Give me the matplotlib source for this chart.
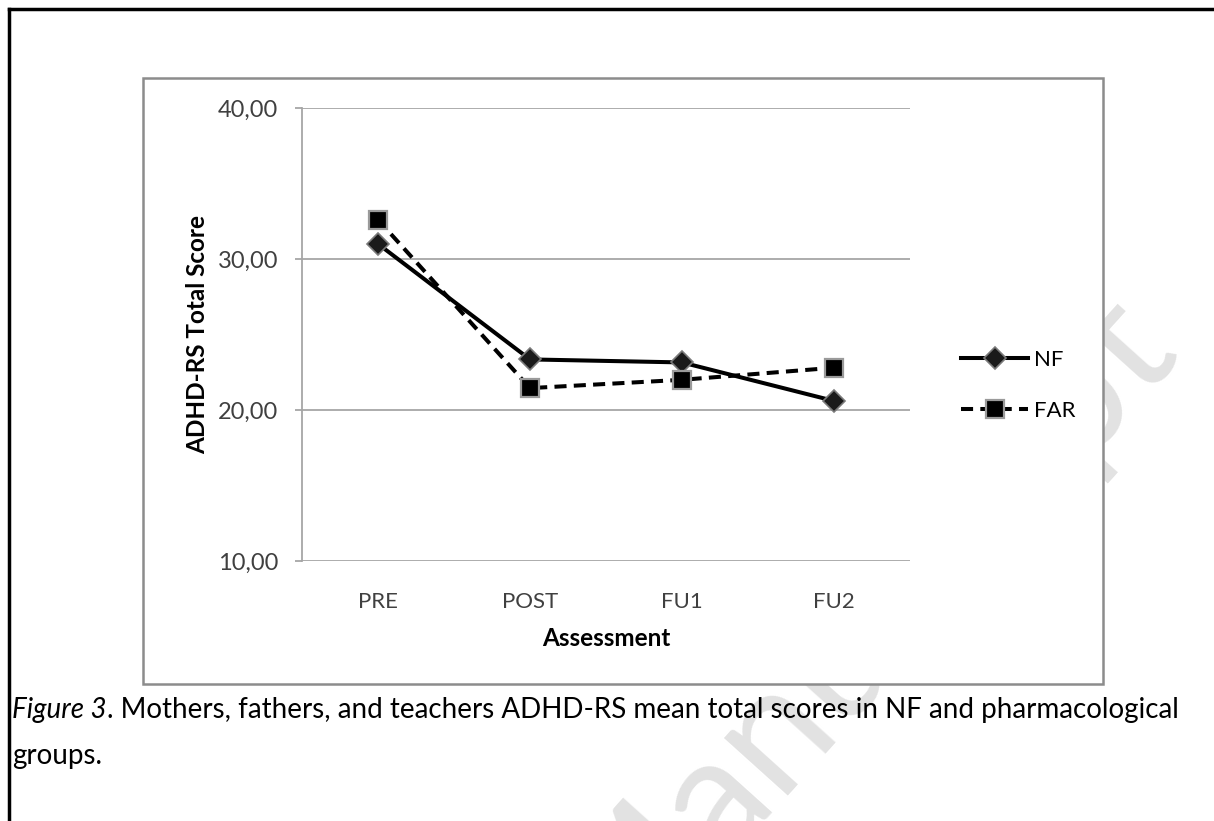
"""
Line chart of ADHD-RS mean total scores (NF vs FAR) across assessments,
drawn inside a document-style frame with caption and watermark.
"""
import matplotlib
matplotlib.use('Agg')
import matplotlib.pyplot as plt
from matplotlib.patches import Rectangle
from matplotlib.lines import Line2D
from matplotlib.ticker import FixedLocator, FuncFormatter

# Data
assessments = ['PRE', 'POST', 'FU1', 'FU2']
nf_scores = [31.0, 23.35, 23.15, 20.6]
far_scores = [32.6, 21.45, 22.0, 22.8]
y_ticks = [10, 20, 30, 40]

FONT = ['Lato', 'DejaVu Sans']
plt.rcParams['font.family'] = FONT

W, H = 1214, 821
fig = plt.figure(figsize=(W / 100, H / 100), dpi=100)


def fx(px):
    return px / W


def fy(py):
    return 1 - py / H


# Page frame (top and left edges only are visible)
fig.add_artist(Line2D([fx(9), 1.0], [fy(9), fy(9)], color='black', lw=2.5,
                      transform=fig.transFigure, zorder=-3))
fig.add_artist(Line2D([fx(9), fx(9)], [fy(9), 0.0], color='black', lw=2.5,
                      transform=fig.transFigure, zorder=-3))

# Watermark behind the chart box
fig.text(fx(1183), fy(357), 'Accepted Manuscript', rotation=48,
         rotation_mode='anchor', ha='right', va='baseline',
         fontsize=122, color='#e2e2e2', fontweight='normal', zorder=-2)

# Chart box
fig.add_artist(Rectangle((fx(143), fy(684)), fx(1103) - fx(143), fy(78) - fy(684),
                         transform=fig.transFigure, facecolor='white',
                         edgecolor='#8c8c8c', lw=1.8, zorder=-1))

ax = fig.add_axes([fx(302), fy(561), fx(910) - fx(302), fy(108) - fy(561)])
ax.set_facecolor('none')

x = list(range(len(assessments)))
ax.plot(x, nf_scores, color='black', lw=2.9, marker='D', markersize=11,
        markerfacecolor='#1a1a1a', markeredgecolor='#7a7a7a', markeredgewidth=1.2,
        label='NF', zorder=3)
ax.plot(x, far_scores, color='black', lw=2.9, dashes=(3.0, 1.8), marker='s',
        markersize=13, markerfacecolor='black', markeredgecolor='#9a9a9a',
        markeredgewidth=1.6, label='FAR', zorder=3)

ax.set_xlim(-0.5, len(assessments) - 0.5)
ax.set_ylim(10, 40)
ax.set_xticks(x)
ax.set_xticklabels(assessments)
ax.yaxis.set_major_locator(FixedLocator(y_ticks))
ax.yaxis.set_major_formatter(FuncFormatter(lambda v, p: f'{v:.2f}'.replace('.', ',')))

for t in y_ticks:
    ax.axhline(t, color='#a6a6a6', lw=1.3, zorder=1)

for side in ['top', 'right', 'bottom']:
    ax.spines[side].set_visible(False)
ax.spines['left'].set_color('#a6a6a6')
ax.spines['left'].set_linewidth(1.3)

ax.tick_params(axis='y', length=5, width=1.3, color='#a6a6a6', pad=12,
               labelsize=17, labelcolor='#404040')
ax.tick_params(axis='x', length=0, pad=22, labelsize=16, labelcolor='#404040')

ax.set_xlabel('Assessment', fontsize=17.5, fontweight='bold', labelpad=11)
ax.set_ylabel('ADHD-RS Total Score', fontsize=17.5, fontweight='bold', labelpad=6)

ax.legend(loc='center left', bbox_to_anchor=(1.07, 0.387), frameon=False,
          fontsize=16, handlelength=3.0, handletextpad=0.25, labelspacing=1.4,
          borderaxespad=0)

# Caption with italic figure number
cap = fig.text(fx(12), fy(718), 'Figure 3', fontsize=20, style='italic',
               color='black', va='baseline')
ax.annotate('. Mothers, fathers, and teachers ADHD-RS mean total scores in NF and pharmacological',
            xy=(1, 0), xycoords=cap, va='bottom', ha='left', fontsize=20,
            color='black', annotation_clip=False)
fig.text(fx(12), fy(764), 'groups.', fontsize=20, color='black', va='baseline')

fig.savefig('out.png', dpi=100)
